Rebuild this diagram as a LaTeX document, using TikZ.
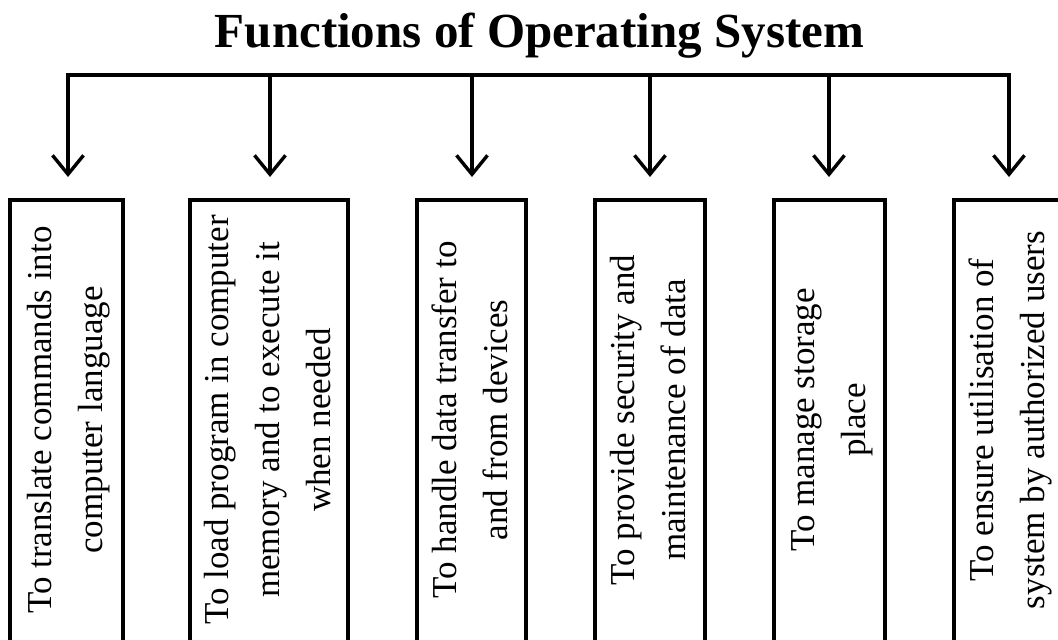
\documentclass[tikz,border=0pt]{standalone}
\usepackage{fontspec}
\setmainfont{Liberation Serif}
\usetikzlibrary{arrows.meta}

\tikzset{
  bar/.style={line width=4pt, line cap=rect},
  arr/.style={line width=3.4pt, -{Straight Barb[length=19pt,width=31pt]}, shorten >=21pt},
  fbox/.style={draw, line width=4pt, inner sep=0pt, minimum height=460pt,
               font=\fontsize{35}{51}\selectfont},
  titletext/.style={font=\fontsize{49}{58}\selectfont\bfseries, anchor=base, inner sep=0pt}
}
% rotated, centred label; the leading space lifts it a little within its box
\newcommand{\boxtext}[1]{\rotatebox{90}{\hspace{20pt}\begin{tabular}{@{}c@{}}#1\end{tabular}}}

\begin{document}
\begin{tikzpicture}[x=1pt,y=-1pt]
  \useasboundingbox (0,0) rectangle (1058,640);
  \clip (0,0) rectangle (1058,640);

  % heading
  \node[titletext] (title) at (539.5,47) {Functions of Operating System};

  % branching points on the distribution bar
  \coordinate (j1) at (68,75);
  \coordinate (j2) at (270,75);
  \coordinate (j3) at (472,75);
  \coordinate (j4) at (650,75);
  \coordinate (j5) at (829,75);
  \coordinate (j6) at (1009,75);

  % function boxes (they run on below the lower edge)
  \node[fbox, minimum width=113pt] (b1) at (66.5,430)
    {\boxtext{To translate commands into\\computer language}};
  \node[fbox, minimum width=158pt] (b2) at (269,430)
    {\boxtext{To load program in computer\\memory and to execute it\\when needed}};
  \node[fbox, minimum width=109pt] (b3) at (471.5,430)
    {\boxtext{To handle data transfer to\\and from devices}};
  \node[fbox, minimum width=110pt] (b4) at (650,430)
    {\boxtext{To provide security and\\maintenance of data}};
  \node[fbox, minimum width=111pt] (b5) at (829.5,430)
    {\boxtext{To manage storage\\place}};
  \node[fbox, minimum width=110pt] (b6) at (1009,430)
    {\boxtext{To ensure utilisation of\\system by authorized users}};

  % distribution bar and arrows
  \draw[bar] (j1) -- (j6);
  \foreach \i in {1,...,6}
    \draw[arr] (j\i) -- (j\i |- b\i.north);
\end{tikzpicture}
\end{document}
